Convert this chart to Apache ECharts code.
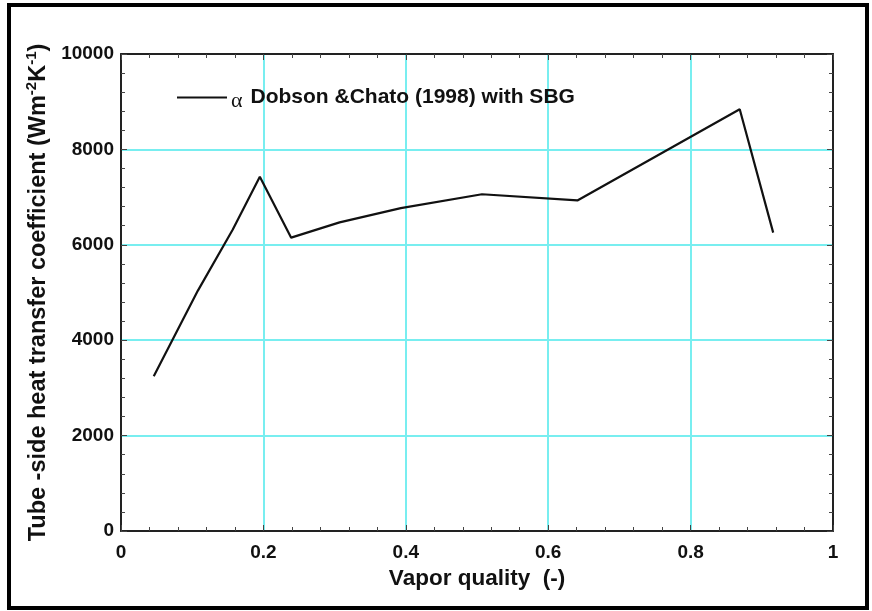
<!DOCTYPE html>
<html>
<head>
<meta charset="utf-8">
<script src="https://cdn.jsdelivr.net/npm/echarts@6/dist/echarts.min.js"></script>
<style>
  html, body { margin: 0; padding: 0; background: #fff; }
  #chart { width: 872px; height: 611px; }
</style>
</head>
<body>
<div id="chart"></div>
<script>
// Vapor quality (-) and the corresponding tube-side heat transfer coefficient
const vaporQuality = [0.046, 0.108, 0.157, 0.195, 0.239, 0.307, 0.393, 0.507, 0.641, 0.869, 0.916];
const htcDobsonChato = [3245, 5040, 6320, 7425, 6150, 6470, 6770, 7060, 6930, 8840, 6255];
const seriesName = 'Dobson &Chato (1998) with SBG';

const FONT = 'Arial, "Liberation Sans", Helvetica, sans-serif';
const GRID_COLOR = '#78eef0';
const AXIS_COLOR = '#222';

const chart = echarts.init(document.getElementById('chart'), null, { renderer: 'canvas' });

const frameAxis = {
  type: 'value',
  min: 0,
  axisLine: { show: true, onZero: false, lineStyle: { color: AXIS_COLOR, width: 2 } },
  axisTick: { show: true, inside: true, length: 6, lineStyle: { color: '#444', width: 1 } },
  minorTick: { show: true, splitNumber: 5, length: 4, lineStyle: { color: '#444', width: 1 } }
};

chart.setOption({
  animation: false,
  backgroundColor: '#fff',
  grid: { left: 121, right: 39, top: 54, bottom: 80, containLabel: false },
  legend: {
    show: true,
    left: 172,
    top: 82,
    icon: 'rect',
    itemWidth: 50,
    itemHeight: 2,
    itemGap: 0,
    data: [seriesName],
    formatter: name => '{a|\u03b1}{b|' + name + '}',
    textStyle: {
      padding: [0, 0, 0, -1],
      rich: {
        a: { fontFamily: '"Liberation Serif", "Times New Roman", serif', fontSize: 22, color: '#111', padding: [7, 8, 0, 0] },
        b: { fontFamily: FONT, fontWeight: 'bold', fontSize: 21, color: '#111' }
      }
    }
  },
  xAxis: [
    Object.assign({}, frameAxis, {
      position: 'bottom',
      max: 1,
      interval: 0.2,
      name: 'Vapor quality  (-)',
      nameLocation: 'middle',
      nameGap: 36,
      nameTextStyle: { fontFamily: FONT, fontWeight: 'bold', fontSize: 22.5, color: '#111' },
      axisLabel: {
        margin: 12,
        fontFamily: FONT, fontWeight: 'bold', fontSize: 19, color: '#111',
        formatter: v => String(Math.round(v * 10) / 10)
      },
      splitLine: { show: true, lineStyle: { color: GRID_COLOR, width: 2 } }
    }),
    Object.assign({}, frameAxis, {
      position: 'top',
      max: 1,
      interval: 0.2,
      axisLabel: { show: false },
      splitLine: { show: false }
    })
  ],
  yAxis: [
    Object.assign({}, frameAxis, {
      position: 'left',
      max: 10000,
      interval: 2000,
      name: '{m|Tube -side heat transfer coefficient (Wm}{s|-2}{m|K}{s|-1}{m|)}',
      nameLocation: 'middle',
      nameGap: 62,
      nameTextStyle: {
        rich: {
          m: { fontFamily: FONT, fontWeight: 'bold', fontSize: 23.5, color: '#111', lineHeight: 27 },
          s: { fontFamily: FONT, fontWeight: 'bold', fontSize: 15, color: '#111', verticalAlign: 'top', lineHeight: 27 }
        }
      },
      axisLabel: {
        margin: 7, fontFamily: FONT, fontWeight: 'bold', fontSize: 19, color: '#111',
        formatter: v => String(v)
      },
      splitLine: { show: true, lineStyle: { color: GRID_COLOR, width: 2 } }
    }),
    Object.assign({}, frameAxis, {
      position: 'right',
      max: 10000,
      interval: 2000,
      axisLabel: { show: false },
      splitLine: { show: false }
    })
  ],
  series: [{
    name: seriesName,
    type: 'line',
    xAxisIndex: 0,
    yAxisIndex: 0,
    data: vaporQuality.map((x, i) => [x, htcDobsonChato[i]]),
    showSymbol: false,
    symbol: 'none',
    lineStyle: { color: '#111', width: 2.2 },
    itemStyle: { color: '#111' },
    z: 5
  }],
  graphic: [{
    type: 'rect',
    shape: { x: 9, y: 5, width: 858, height: 603 },
    style: { fill: 'none', stroke: '#000', lineWidth: 4 },
    silent: true,
    z: 100
  }]
});
</script>
</body>
</html>
